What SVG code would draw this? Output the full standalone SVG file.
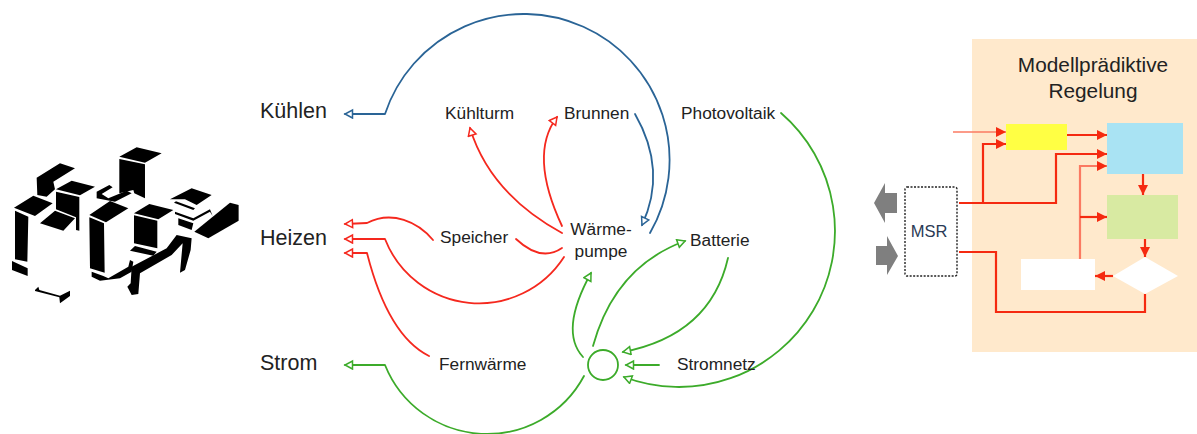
<svg xmlns="http://www.w3.org/2000/svg" width="1197" height="434" viewBox="0 0 1197 434">
<style>
text{font-family:"Liberation Sans",Arial,sans-serif;fill:#222}
.big{font-size:21.5px}.lab{font-size:17.3px}.ttl{font-size:20.8px}
.c{fill:none;stroke-width:1.8;stroke-linecap:round;stroke-linejoin:round}
.bl{stroke:#2a6496;marker-end:url(#mb)}.rd{stroke:#f5281e;marker-end:url(#mr)}.gr{stroke:#3cab2a;marker-end:url(#mg)}
.f{fill:none;stroke:#f52a10;stroke-width:2.2;stroke-linejoin:miter}
.fa{marker-end:url(#mf)}.pale{stroke:#fb7a62}
</style>
<defs>
<marker id="mb" markerUnits="userSpaceOnUse" markerWidth="14" markerHeight="14" refX="9" refY="5" orient="auto"><path d="M1.5,1 L9,5 L1.5,9 Z" fill="#fff" stroke="#2a6496" stroke-width="1.5"/></marker>
<marker id="mr" markerUnits="userSpaceOnUse" markerWidth="14" markerHeight="14" refX="9" refY="5" orient="auto"><path d="M1.5,1 L9,5 L1.5,9 Z" fill="#fff" stroke="#f5281e" stroke-width="1.5"/></marker>
<marker id="mg" markerUnits="userSpaceOnUse" markerWidth="14" markerHeight="14" refX="9" refY="5" orient="auto"><path d="M1.5,1 L9,5 L1.5,9 Z" fill="#fff" stroke="#3cab2a" stroke-width="1.5"/></marker>
<marker id="mf" markerUnits="userSpaceOnUse" markerWidth="12" markerHeight="12" refX="10" refY="6" orient="auto"><path d="M0,1 L10,6 L0,11 Z" fill="#f52a10"/></marker>
</defs>
<rect width="1197" height="434" fill="#fff"/>
<g id="gebaeude" transform="translate(0,130) scale(.3333)" fill="#000" stroke="none">
<path d="M358,80 L410,52 L485,70 L435,98 Z M358,87 L435,103 L435,205 L403,190 L400,180 L358,190 Z"/>
<path d="M110,143 L180,100 L225,115 L160,155 L165,178 L140,200 L112,195 Z"/>
<path d="M168,178 L215,152 L285,170 L240,196 Z M168,185 L238,201 L238,302 L228,300 L228,262 L168,238 Z M120,280 L165,242 L225,265 L190,302 Z"/>
<path d="M42,233 L100,197 L158,220 L105,258 Z M45,242 L85,260 L82,395 L45,388 Z M36,393 L83,415 L83,438 L36,420 Z"/>
<path d="M268,255 L330,213 L385,235 L318,277 Z M268,262 L312,280 L314,428 L270,415 Z M275,425 L310,438 L325,445 L385,410 L390,390 L400,395 L395,425 L360,445 L300,452 L275,440 Z"/>
<path d="M402,250 L448,222 L520,240 L475,268 Z M402,256 L472,272 L472,355 L402,340 Z M390,362 L405,348 L470,365 L460,377 Z"/>
<path d="M395,410 L500,355 L530,315 L575,325 L572,360 L555,420 L540,428 L548,340 L515,375 L420,430 L415,492 L395,495 L382,470 L392,460 Z"/>
<path d="M583,305 L690,218 L716,225 L716,272 L625,325 Z"/>
<path d="M510,208 L575,175 L635,195 L590,225 L555,208 Z M528,214 L585,235 L580,240 L522,218 Z M525,245 L580,265 L630,238 L638,258 L630,245 L580,272 L525,252 Z M535,265 L580,280 L575,300 L535,285 Z"/>
<path d="M290,185 L328,165 L338,172 L305,192 L325,205 L380,182 L395,190 L345,215 L290,205 Z"/>
<path d="M105,480 L115,470 L118,480 L180,497 L210,482 L210,498 L180,520 L178,502 L105,483 Z"/>
</g>
<g id="connectors">
<path class="c bl" d="M650,233 A146,146 0 1 0 385,114 L345,114"/>
<path class="c bl" d="M635,114 Q667.5,170.5 642,225"/>
<path class="c rd" d="M562,233 Q490,193.5 470,128"/>
<path class="c rd" d="M562,226 Q528.5,154.5 557,117"/>
<path class="c rd" d="M433,240 C418,222 392,210 367,223 L345,224"/>
<path class="c rd" d="M564,257 A101,101 0 0 1 385,239 L345,239"/>
<path class="c" stroke="#f5281e" d="M516,239 Q541,262.5 562,248"/>
<path class="c rd" d="M429,356 Q388,335.5 367,253 L345,253"/>
<path class="c gr" d="M584,376 A110,110 0 0 1 385,365 L345,365"/>
<path class="c gr" d="M583,357 Q559,331 591,273"/>
<path class="c gr" d="M593,346 Q615,266.5 685,241"/>
<path class="c gr" d="M728,258 Q710.5,335 623,352"/>
<path class="c gr" d="M659,365 L626,365"/>
<path class="c gr" d="M781,113 A156,156 0 0 1 624,377"/>
</g>
<g id="regelung-bg"><rect x="972" y="39" width="225" height="313" fill="#ffe9cc"/></g>
<g id="regler-connectors">
<path class="f fa pale" style="stroke-width:1.5" d="M953,132 H1006"/>
<path class="f fa" d="M959,203 H983 V144 H1006"/>
<path class="f fa" d="M983,203 H1056 V154 H1107"/>
<path class="f fa" d="M1067,135 H1107"/>
<path class="f fa pale" d="M1080,259 V166 H1107"/>
<path class="f fa" d="M1080,217 H1107"/>
<path class="f fa" d="M1143,174 V195"/>
<path class="f fa" d="M1145,239 V257"/>
<path class="f fa" d="M1113,276 H1095"/>
<path class="f" d="M1145,294 V312 H996 V252 H959"/>
</g>
<g id="kuehlen"><text class="big" x="260" y="118">Kühlen</text></g>
<g id="heizen"><text class="big" x="260" y="245">Heizen</text></g>
<g id="strom"><text class="big" x="260" y="370">Strom</text></g>
<g id="kuehlturm"><text class="lab" x="445" y="119">Kühlturm</text></g>
<g id="brunnen"><text class="lab" x="564" y="119">Brunnen</text></g>
<g id="photovoltaik"><text class="lab" x="681" y="119">Photovoltaik</text></g>
<g id="speicher"><text class="lab" x="440" y="243">Speicher</text></g>
<g id="waermepumpe"><text class="lab" x="601" y="235" text-anchor="middle">Wärme-</text><text class="lab" x="601" y="257" text-anchor="middle">pumpe</text></g>
<g id="batterie"><text class="lab" x="690" y="246">Batterie</text></g>
<g id="fernwaerme"><text class="lab" x="439" y="370">Fernwärme</text></g>
<g id="stromnetz"><text class="lab" x="677" y="370">Stromnetz</text></g>
<g id="knoten"><circle cx="603" cy="365" r="15" fill="none" stroke="#3cab2a" stroke-width="1.8"/></g>
<g id="pfeil-links"><path d="M874,203 L885,183 V193 H897 V213 H885 V223 Z" fill="#7f7f7f"/></g>
<g id="pfeil-rechts"><path d="M876,246 H887 V236 L898,256 L887,275 V265 H876 Z" fill="#7f7f7f"/></g>
<g id="msr"><rect x="905" y="187" width="52" height="89" rx="2" fill="#fff" stroke="#222" stroke-width="1.4" stroke-dasharray="2 1.5"/><text x="929" y="237" text-anchor="middle" style="font-size:16.5px;fill:#2a3a55">MSR</text></g>
<g id="titel"><text class="ttl" x="1093" y="72" text-anchor="middle">Modellprädiktive</text><text class="ttl" x="1093" y="98" text-anchor="middle">Regelung</text></g>
<g id="gelb"><rect x="1006" y="124" width="61" height="26" fill="#ffff44"/></g>
<g id="blau"><rect x="1107" y="123" width="76" height="51" fill="#a9e3f3"/></g>
<g id="gruen"><rect x="1107" y="195" width="71" height="44" fill="#d8eaa2"/></g>
<g id="weiss"><rect x="1021" y="259" width="74" height="31" fill="#fff"/></g>
<g id="raute"><path d="M1113,276 L1145,257 L1178,276 L1145,294 Z" fill="#fff"/></g>
</svg>
